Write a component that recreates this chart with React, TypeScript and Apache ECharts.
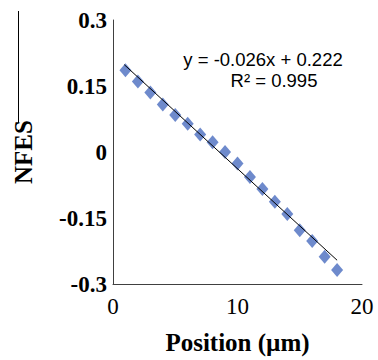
import React, { useEffect, useRef } from "react";
import * as echarts from "echarts";

const positions = [1, 2, 3, 4, 5, 6, 7, 8, 9, 10, 11, 12, 13, 14, 15, 16, 17, 18];
const nfes = [0.186, 0.16, 0.135, 0.108, 0.084, 0.064, 0.04, 0.022, 0.0, -0.026, -0.057, -0.084, -0.113, -0.141, -0.178, -0.202, -0.238, -0.268];
const trendSlope = -0.026;
const trendIntercept = 0.222;
const trendRange = [0.9, 18];
const equationText = "y = -0.026x + 0.222";
const r2Text = "R² = 0.995";
const xTitle = "Position (µm)";
const yTitle = "NFES";

export default function App() {
  const ref = useRef<HTMLDivElement>(null);
  useEffect(() => {
    if (!ref.current) return;
    const chart = echarts.init(ref.current, null, { renderer: "svg" });
    const scatterData = positions.map((x, i) => [x, nfes[i]]);
    const trendData = trendRange.map((x) => [x, trendSlope * x + trendIntercept]);
    const serif = "'Liberation Serif', 'Times New Roman', serif";
    chart.setOption({
      animation: false,
      backgroundColor: "#ffffff",
      grid: { left: 113, right: 16, top: 20, bottom: 67 },
      xAxis: {
        type: "value",
        min: 0,
        max: 20,
        interval: 10,
        name: xTitle,
        nameLocation: "middle",
        nameGap: 46,
        nameTextStyle: { fontFamily: serif, fontWeight: "bold", fontSize: 25, color: "#000" },
        axisLine: { show: true, onZero: false, lineStyle: { color: "#404040", width: 1 } },
        axisTick: { show: false },
        splitLine: { show: false },
        axisLabel: { fontFamily: serif, fontSize: 23, color: "#000", margin: 11 },
      },
      yAxis: {
        type: "value",
        min: -0.3,
        max: 0.3,
        interval: 0.15,
        name: yTitle,
        nameLocation: "middle",
        nameGap: 77,
        nameRotate: 90,
        nameTextStyle: { fontFamily: serif, fontWeight: "bold", fontSize: 25, color: "#000" },
        axisLine: { show: true, onZero: false, lineStyle: { color: "#404040", width: 1 } },
        axisTick: { show: false },
        splitLine: { show: false },
        axisLabel: {
          fontFamily: serif,
          fontWeight: "bold",
          fontSize: 23,
          color: "#000",
          margin: 6,
          formatter: (v: number) => {
            const r = Math.round(v * 100) / 100;
            return String(r);
          },
        },
      },
      graphic: [
        {
          type: "line",
          shape: { x1: 18.5, y1: 11, x2: 18.5, y2: 123 },
          style: { stroke: "#000", lineWidth: 1 },
        },
        {
          type: "text",
          x: 263,
          y: 59,
          style: {
            text: equationText,
            fontFamily: "'Liberation Sans', Arial, sans-serif",
            fontSize: 18.5,
            fill: "#000",
            align: "center",
            verticalAlign: "middle",
          },
        },
        {
          type: "text",
          x: 274,
          y: 80,
          style: {
            text: r2Text,
            fontFamily: "'Liberation Sans', Arial, sans-serif",
            fontSize: 18.5,
            fill: "#000",
            align: "center",
            verticalAlign: "middle",
          },
        },
      ],
      series: [
        {
          type: "scatter",
          data: scatterData,
          symbol: "diamond",
          symbolSize: [12, 14],
          itemStyle: { color: "#4a6dbf" },
          z: 2,
        },
        {
          type: "line",
          data: trendData,
          showSymbol: false,
          lineStyle: { color: "#000", width: 1 },
          z: 3,
        },
      ],
    });
    return () => chart.dispose();
  }, []);
  return <div ref={ref} style={{ width: 378, height: 360, position: "absolute", left: 0, top: 0 }} />;
}
